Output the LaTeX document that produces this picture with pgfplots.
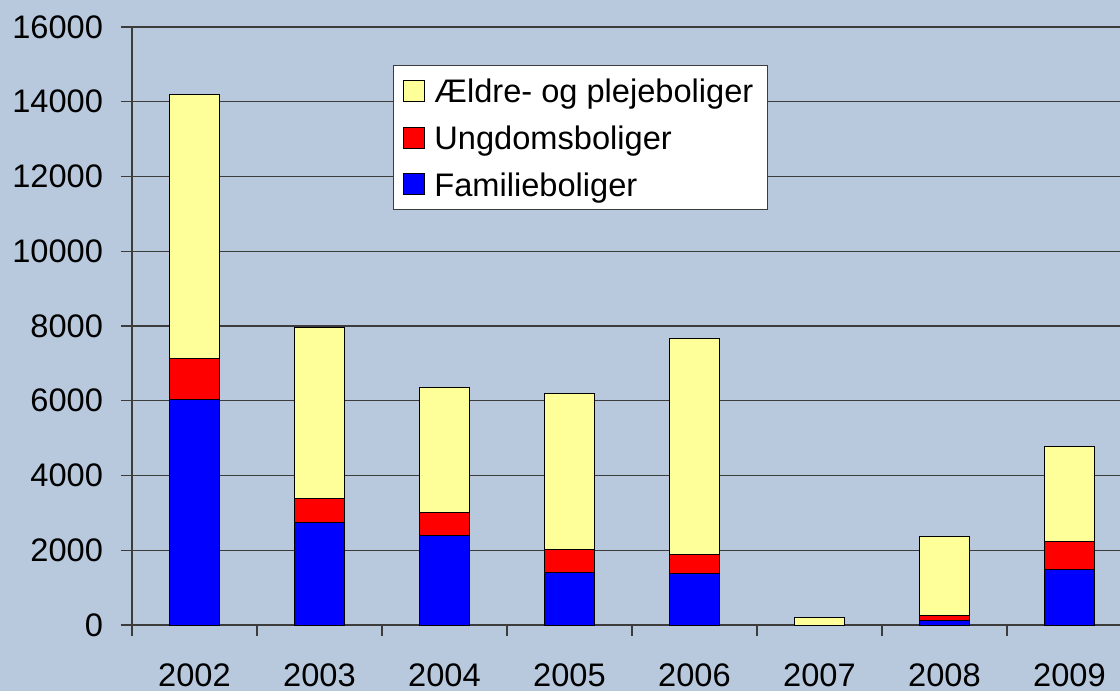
\documentclass[border=0pt]{standalone}
\usepackage{fontspec}
\setmainfont{Liberation Sans}
\usepackage{pgfplots}
\pgfplotsset{compat=1.18}
\definecolor{bg}{RGB}{184,201,222}
\definecolor{yel}{RGB}{255,255,153}
\definecolor{gridc}{RGB}{60,60,60}
\begin{document}
\begin{tikzpicture}
\fill[bg] (-66pt,-33pt) rectangle (494pt,312.5pt);
\begin{axis}[
  at={(0pt,0pt)}, anchor=south west,
  scale only axis, width=494pt, height=299pt,
  xmin=-0.5, xmax=7.404, ymin=0, ymax=16000,
  ybar stacked, bar width=25pt,
  axis x line*=bottom, axis y line*=left,
  axis line style={gridc, line width=0.6pt},
  xtick={-0.5,0.5,...,6.5}, xticklabels={},
  extra x ticks={0,1,2,3,4,5,6,7},
  extra x tick labels={2002,2003,2004,2005,2006,2007,2008,2009},
  extra x tick style={major tick length=0pt, xticklabel style={yshift=-16pt}},
  ytick={0,2000,...,16000},
  major tick length=5.5pt,
  tick align=outside,
  ymajorgrids,
  grid style={gridc, line width=0.6pt},
  tick style={gridc, line width=0.6pt},
  scaled y ticks=false,
  yticklabel style={/pgf/number format/1000 sep={}, xshift=-5.5pt},
  every tick label/.append style={font=\fontsize{16.3}{19.5}\selectfont},
  /pgf/number format/assume math mode=true,
  reverse legend,
  legend cell align=left,
  legend style={at={(0.264,0.9365)}, anchor=north west, fill=white, draw=gridc,
    line width=0.6pt, font=\fontsize{16.3}{19.5}\selectfont,
    nodes={text depth=0pt}, row sep=7.5pt,
    inner xsep=5pt, inner ysep=4.8pt},
  legend image code/.code={\draw[#1, draw=black, line width=0.5pt] (0pt,-5.25pt) rectangle (10.5pt,5.25pt); \path (13pt,0pt);},
]
\addplot+[fill=blue, draw=black, line width=0.5pt] coordinates {(0,6040) (1,2755) (2,2400) (3,1418) (4,1380) (5,0) (6,120) (7,1472)};
\addplot+[fill=red, draw=black, line width=0.5pt] coordinates {(0,1097) (1,625) (2,623) (3,615) (4,493) (5,0) (6,140) (7,758)};
\addplot+[fill=yel, draw=black, line width=0.5pt] coordinates {(0,7052) (1,4585) (2,3327) (3,4157) (4,5788) (5,190) (6,2113) (7,2551)};
\legend{Familieboliger, Ungdomsboliger, Ældre- og plejeboliger}
\end{axis}
\pgfresetboundingbox
\path (-66pt,-33pt) rectangle (494pt,312.5pt);
\end{tikzpicture}
\end{document}
